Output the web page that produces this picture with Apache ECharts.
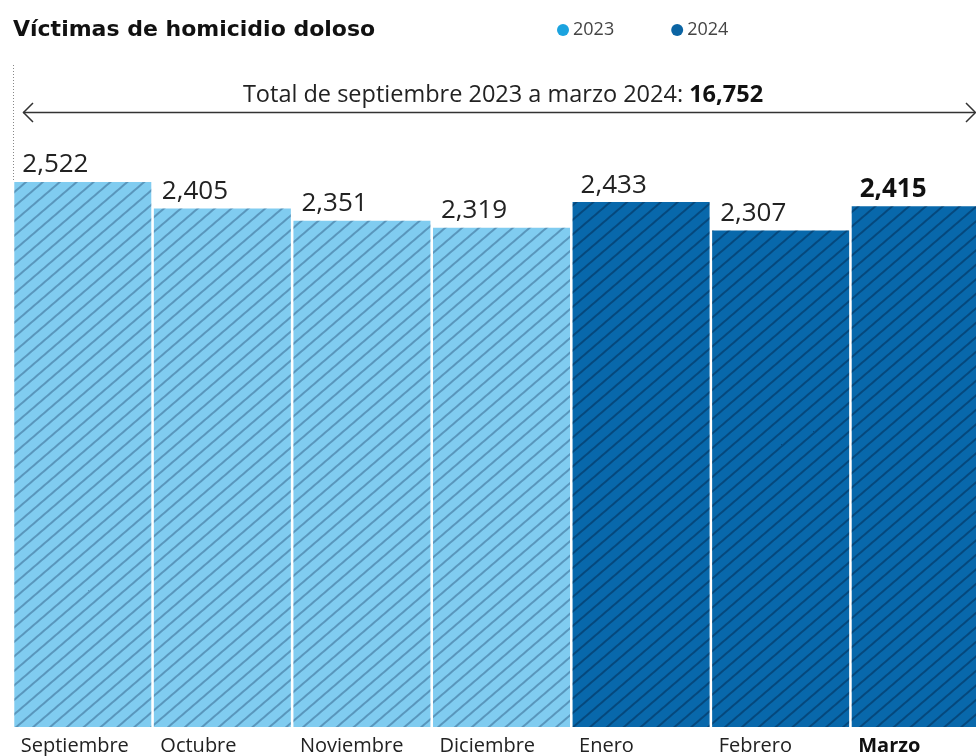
<!DOCTYPE html>
<html>
<head>
<meta charset="utf-8">
<script src="https://cdn.jsdelivr.net/npm/echarts@6/dist/echarts.min.js"></script>
<style>
html,body{margin:0;padding:0;background:#fff;}
#c{width:976px;height:756px;}
</style>
</head>
<body>
<div id="c"></div>
<script>
const meses = ['Septiembre','Octubre','Noviembre','Diciembre','Enero','Febrero','Marzo'];
const victimas = [2522, 2405, 2351, 2319, 2433, 2307, 2415];
const anioDeMes = ['2023','2023','2023','2023','2024','2024','2024'];
const anios = ['2023','2024'];
const destacado = 'Marzo';

const barColors = {'2023': '#80ccf0', '2024': '#0868ab'};
const legendColors = {'2023': '#1ba3df', '2024': '#0b64a3'};
const FONT = 'Open Sans';

const fmt = v => Number(v).toLocaleString('en-US');
const total = victimas.reduce((a, b) => a + b, 0);

const chart = echarts.init(document.getElementById('c'), null, {renderer: 'canvas'});

const series = anios.map(y => ({
  name: y,
  type: 'bar',
  barWidth: 137,
  barGap: '-100%',
  data: victimas.map((v, i) => anioDeMes[i] === y ? v : '-'),
  itemStyle: {
    color: barColors[y],
    decal: {
      symbol: 'rect',
      symbolSize: 1,
      dashArrayX: [1, 0],
      dashArrayY: [1.1, 8.5],
      rotation: -0.71,
      color: y === '2023' ? 'rgba(30,70,110,0.4)' : 'rgba(0,25,55,0.4)'
    }
  },
  label: {
    show: true,
    position: 'top',
    distance: 4,
    formatter: p => (p.name === destacado ? '{b|' : '{n|') + fmt(p.value) + '}',
    rich: {
      n: {width: 121, align: 'left', fontSize: 26, fontFamily: FONT, color: '#222'},
      b: {width: 121, align: 'left', fontSize: 26, fontFamily: FONT, fontWeight: 'bold', color: '#111'}
    }
  },
  emphasis: {disabled: true}
}));

chart.setOption({
  animation: false,
  backgroundColor: '#fff',
  title: {
    text: 'Víctimas de homicidio doloso',
    left: 13, top: 19, padding: 0,
    textStyle: {fontFamily: 'DejaVu Sans', fontWeight: 'bold', fontSize: 22, color: '#111'}
  },
  legend: {
    left: 557, top: 21, padding: 0,
    icon: 'circle', itemWidth: 12, itemHeight: 12, itemGap: 57,
    textStyle: {fontFamily: FONT, fontSize: 18, color: '#444', padding: [0,0,0,-1]},
    data: anios.map(y => ({name: y, itemStyle: {color: legendColors[y], decal: 'none'}}))
  },
  grid: {left: 13, width: 977, top: 74, bottom: 29, containLabel: false, outerBoundsMode: 'none'},
  xAxis: {
    type: 'category',
    data: meses,
    axisLine: {show: false},
    axisTick: {show: false},
    axisLabel: {
      interval: 0,
      margin: 9,
      formatter: v => (v === destacado ? '{b|' : '{n|') + v + '}',
      rich: {
        n: {width: 124, align: 'left', fontSize: 20, fontFamily: FONT, color: '#222'},
        b: {width: 124, align: 'left', fontSize: 20, fontFamily: FONT, fontWeight: 'bold', color: '#111'}
      }
    }
  },
  yAxis: {type: 'value', min: 110, max: 3000, show: false, splitLine: {show: false}},
  graphic: [
    {type: 'line', shape: {x1: 13.5, y1: 65, x2: 13.5, y2: 181}, style: {stroke: '#888', lineWidth: 1, lineDash: [1, 2]}, silent: true},
    {type: 'line', shape: {x1: 23, y1: 112.5, x2: 975, y2: 112.5}, style: {stroke: '#333', lineWidth: 1.5}, silent: true},
    {type: 'polyline', shape: {points: [[33, 103], [23.5, 112.5], [33, 122]]}, style: {stroke: '#333', lineWidth: 1.5, fill: null}, silent: true},
    {type: 'polyline', shape: {points: [[966, 103], [975.5, 112.5], [966, 122]]}, style: {stroke: '#333', lineWidth: 1.5, fill: null}, silent: true},
    {
      type: 'text', x: 503, y: 95, silent: true,
      style: {
        text: '{a|Total de septiembre 2023 a marzo 2024: }{b|' + fmt(total) + '}',
        align: 'center', verticalAlign: 'middle',
        rich: {
          a: {fontFamily: FONT, fontSize: 23.5, fill: '#222'},
          b: {fontFamily: FONT, fontSize: 23.5, fontWeight: 'bold', fill: '#111'}
        }
      }
    }
  ],
  series: series
});
</script>
</body>
</html>
